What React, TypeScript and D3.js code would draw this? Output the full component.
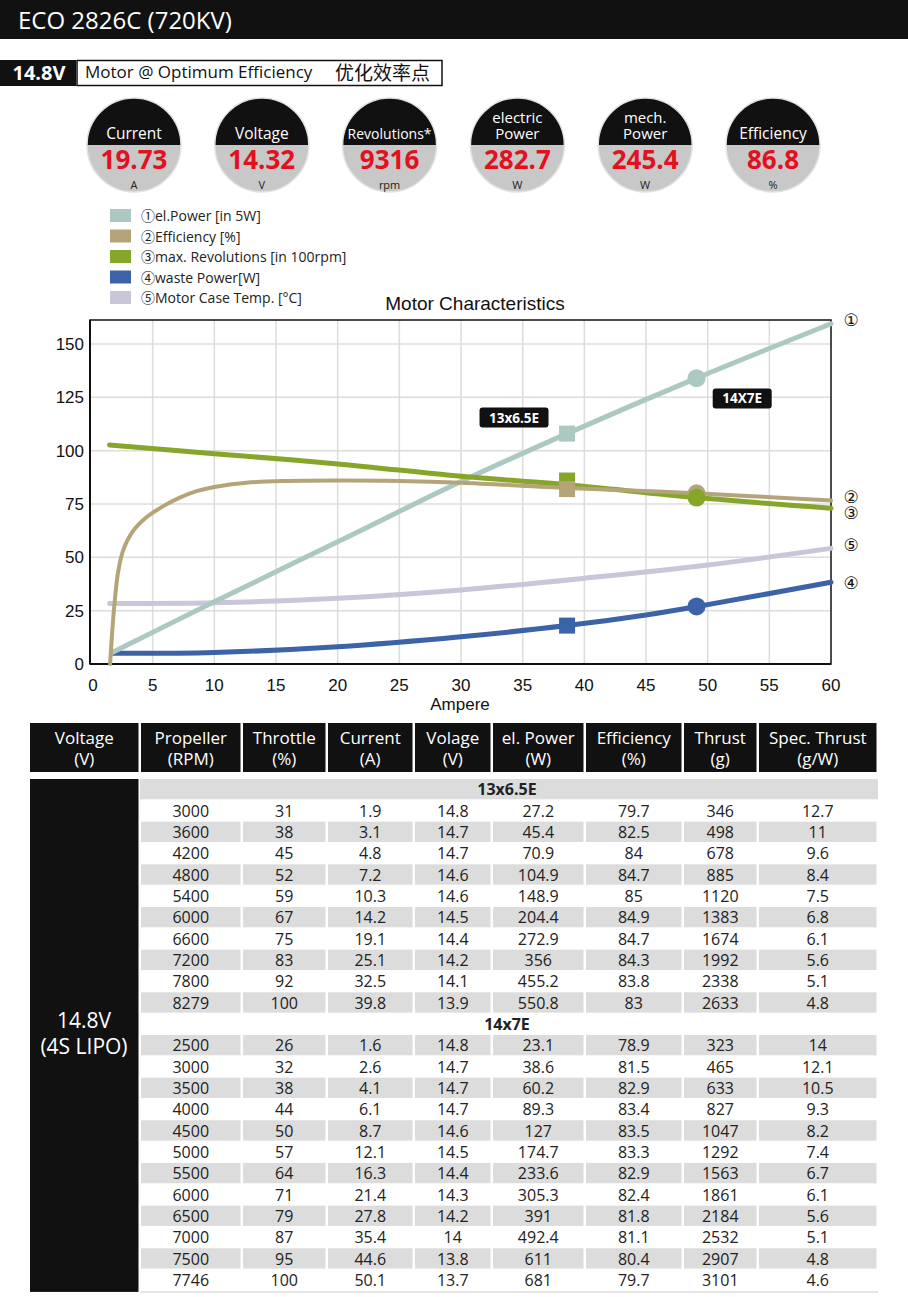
import React from "react";
import * as d3 from "d3";

// ---------- DATA ----------
const circleTitles = [["Current"], ["Voltage"], ["Revolutions*"], ["electric", "Power"], ["mech.", "Power"], ["Efficiency"]];
const circleValues = ["19.73", "14.32", "9316", "282.7", "245.4", "86.8"];
const circleUnits = ["A", "V", "rpm", "W", "W", "%"];

const legendLabels = ["①el.Power [in 5W]", "②Efficiency [%]", "③max. Revolutions [in 100rpm]", "④waste Power[W]", "⑤Motor Case Temp. [°C]"];
const seriesColors = ["#abc9c1", "#b5a479", "#86a62a", "#3c63a8", "#c9c6d9"];

// [Ampere, value]
const elPower: [number, number][] = [[1.8, 5.6], [10, 29.2], [20, 57.3], [30, 85.5], [38.6, 108], [49.1, 134], [60, 159.5]];
const efficiency: [number, number][] = [[1.55, 0], [1.73, 16], [1.95, 31], [2.21, 43.5], [2.62, 53.5], [3.43, 62.5], [4.5, 68.8], [5.86, 74], [7.2, 78], [8.56, 81], [10, 83], [12.6, 85], [16, 85.8], [20, 86], [25, 85.8], [30, 85], [38.6, 82.5], [49.1, 80], [60, 76.6]];
const maxRev: [number, number][] = [[1.5, 102.7], [10, 98.6], [20, 93.8], [30, 88], [38.6, 84], [49.1, 78], [60, 73]];
const wastePower: [number, number][] = [[1.8, 5], [10, 5.4], [20, 8.1], [30, 12.8], [38.6, 18], [45, 23], [49.1, 26.9], [60, 38.3]];
const caseTemp: [number, number][] = [[1.5, 28.4], [10, 28.7], [20, 30.8], [30, 34.7], [40, 40.2], [50, 46.4], [60, 54.2]];
const seriesData = [elPower, efficiency, maxRev, wastePower, caseTemp];

const squareMarkers: [number, number, number][] = [[0, 38.6, 108], [2, 38.6, 86], [1, 38.6, 82], [3, 38.6, 18]];
const circleMarkers: [number, number, number][] = [[0, 49.1, 134], [1, 49.1, 80], [2, 49.1, 78], [3, 49.1, 27]];
const propLabels = [{ text: "13x6.5E", x: 34.3, y: 115.5, w: 69 }, { text: "14X7E", x: 52.8, y: 124.5, w: 59 }];

const endLabels = [{ t: "①", y: 161.2 }, { t: "②", y: 78.3 }, { t: "③", y: 70.8 }, { t: "⑤", y: 55.8 }, { t: "④", y: 38 }];

const xTicks = [0, 5, 10, 15, 20, 25, 30, 35, 40, 45, 50, 55, 60];
const yTicks = [0, 25, 50, 75, 100, 125, 150];

const headerTop = ["Voltage", "Propeller", "Throttle", "Current", "Volage", "el. Power", "Efficiency", "Thrust", "Spec. Thrust"];
const headerBottom = ["(V)", "(RPM)", "(%)", "(A)", "(V)", "(W)", "(%)", "(g)", "(g/W)"];

const prop1Name = "13x6.5E";
const prop1Rows = [
  ["3000", "31", "1.9", "14.8", "27.2", "79.7", "346", "12.7"],
  ["3600", "38", "3.1", "14.7", "45.4", "82.5", "498", "11"],
  ["4200", "45", "4.8", "14.7", "70.9", "84", "678", "9.6"],
  ["4800", "52", "7.2", "14.6", "104.9", "84.7", "885", "8.4"],
  ["5400", "59", "10.3", "14.6", "148.9", "85", "1120", "7.5"],
  ["6000", "67", "14.2", "14.5", "204.4", "84.9", "1383", "6.8"],
  ["6600", "75", "19.1", "14.4", "272.9", "84.7", "1674", "6.1"],
  ["7200", "83", "25.1", "14.2", "356", "84.3", "1992", "5.6"],
  ["7800", "92", "32.5", "14.1", "455.2", "83.8", "2338", "5.1"],
  ["8279", "100", "39.8", "13.9", "550.8", "83", "2633", "4.8"],
];
const prop2Name = "14x7E";
const prop2Rows = [
  ["2500", "26", "1.6", "14.8", "23.1", "78.9", "323", "14"],
  ["3000", "32", "2.6", "14.7", "38.6", "81.5", "465", "12.1"],
  ["3500", "38", "4.1", "14.7", "60.2", "82.9", "633", "10.5"],
  ["4000", "44", "6.1", "14.7", "89.3", "83.4", "827", "9.3"],
  ["4500", "50", "8.7", "14.6", "127", "83.5", "1047", "8.2"],
  ["5000", "57", "12.1", "14.5", "174.7", "83.3", "1292", "7.4"],
  ["5500", "64", "16.3", "14.4", "233.6", "82.9", "1563", "6.7"],
  ["6000", "71", "21.4", "14.3", "305.3", "82.4", "1861", "6.1"],
  ["6500", "79", "27.8", "14.2", "391", "81.8", "2184", "5.6"],
  ["7000", "87", "35.4", "14", "492.4", "81.1", "2532", "5.1"],
  ["7500", "95", "44.6", "13.8", "611", "80.4", "2907", "4.8"],
  ["7746", "100", "50.1", "13.7", "681", "79.7", "3101", "4.6"],
];

// ---------- LAYOUT ----------
const W = 908, H = 1297;
const FONT = "'Open Sans', 'Noto Sans', 'Noto Sans CJK SC', sans-serif";
const AX = "'Liberation Sans', Arial, sans-serif";

const x = d3.scaleLinear().domain([0, 60]).range([91, 831]);
const y = d3.scaleLinear().domain([0, 161.25]).range([664, 320]);
const line = d3.line<[number, number]>().x(d => x(d[0])).y(d => y(d[1])).curve(d3.curveCatmullRom.alpha(0.5));

const colEdges = [30, 140, 242, 327, 414, 492, 585, 683, 758, 878];
const tableTop = 779;
const rowH = 21.33;

export default function App() {
  const bodyRows: { kind: "sec" | "data"; name?: string; cells?: string[] }[] = [
    { kind: "sec", name: prop1Name },
    ...prop1Rows.map(c => ({ kind: "data" as const, cells: c })),
    { kind: "sec", name: prop2Name },
    ...prop2Rows.map(c => ({ kind: "data" as const, cells: c })),
  ];
  const drawOrder = [4, 3, 0, 2, 1];
  return (
    <svg width={W} height={H} style={{ position: "absolute", left: 0, top: 0, background: "#fff" }} fontFamily={FONT}>
      <defs>
        {circleValues.map((_, i) => (
          <clipPath id={`cc${i}`} key={i}>
            <circle cx={134 + i * 127.8} cy={145} r={47} />
          </clipPath>
        ))}
      </defs>
      <rect x={0} y={0} width={W} height={H} fill="#fff" />
      {/* Title bar */}
      <rect x={0} y={0} width={W} height={39} fill="#111" />
      <text x={18} y={29} fill="#fff" fontSize={24}>ECO 2826C (720KV)</text>

      {/* Sub bar */}
      <rect x={0} y={60} width={76} height={26} fill="#111" />
      <text x={39} y={80} fill="#fff" fontSize={20} fontWeight="bold" textAnchor="middle">14.8V</text>
      <rect x={77} y={60.5} width={365} height={25} fill="#fff" stroke="#111" strokeWidth={1.5} />
      <text x={85} y={78} fill="#111" fontSize={17}>Motor @ Optimum Efficiency</text>
      <text x={335} y={80} fill="#111" fontSize={19} fontFamily="'Noto Sans CJK SC', sans-serif">优化效率点</text>

      {/* Circles */}
      {circleValues.map((v, i) => {
        const cx = 134 + i * 127.8;
        const t = circleTitles[i];
        const fs = t[0].length > 10 ? 14 : 15.5;
        return (
          <g key={i}>
            <g clipPath={`url(#cc${i})`}>
              <rect x={cx - 50} y={95} width={100} height={50} fill="#111" />
              <rect x={cx - 50} y={145} width={100} height={50} fill="#c8c8c8" />
            </g>
            <circle cx={cx} cy={145} r={47} fill="none" stroke="#e2e2e2" strokeWidth={1.5} />
            {t.length === 1 ? (
              <text x={cx} y={139} fill="#fff" fontSize={fs} textAnchor="middle">{t[0]}</text>
            ) : (
              <>
                <text x={cx} y={123} fill="#fff" fontSize={15} textAnchor="middle">{t[0]}</text>
                <text x={cx} y={139} fill="#fff" fontSize={15} textAnchor="middle">{t[1]}</text>
              </>
            )}
            <text x={cx} y={169} fill="#e3101e" fontSize={26} fontWeight="bold" textAnchor="middle">{v}</text>
            <text x={cx} y={188.5} fill="#222" fontSize={11} textAnchor="middle">{circleUnits[i]}</text>
          </g>
        );
      })}

      {/* Legend */}
      {legendLabels.map((l, i) => (
        <g key={i}>
          <rect x={110} y={209 + i * 20.5} width={21} height={13} fill={seriesColors[i]} />
          <text x={141} y={221 + i * 20.5} fontSize={14} fill="#222">{l}</text>
        </g>
      ))}

      {/* Chart */}
      <text x={475} y={310} fontSize={19} textAnchor="middle" fontFamily={AX} fill="#111">Motor Characteristics</text>
      {xTicks.slice(1, -1).map(t => (
        <line key={"gx" + t} x1={x(t)} x2={x(t)} y1={y(161.25)} y2={y(0)} stroke="#dcdcdc" strokeWidth={1.5} />
      ))}
      {yTicks.slice(1).map(t => (
        <line key={"gy" + t} x1={x(0)} x2={x(60)} y1={y(t)} y2={y(t)} stroke="#dcdcdc" strokeWidth={1.5} />
      ))}
      <rect x={x(0) - 1} y={y(161.25)} width={x(60) - x(0) + 1} height={y(0) - y(161.25)} fill="none" stroke="#111" strokeWidth={1.5} />
      <line x1={x(0) - 1} x2={x(0) - 1} y1={y(161.25)} y2={y(0)} stroke="#111" strokeWidth={2} />
      <line x1={x(0) - 1} x2={x(60)} y1={y(0)} y2={y(0)} stroke="#111" strokeWidth={2} />
      {xTicks.map(t => (
        <text key={"xt" + t} x={x(t) + (t === 0 ? 2 : 0)} y={691} fontSize={17} textAnchor="middle" fontFamily={AX} fill="#111">{t}</text>
      ))}
      {yTicks.map(t => (
        <text key={"yt" + t} x={84} y={y(t) + 6} fontSize={17} textAnchor="end" fontFamily={AX} fill="#111">{t}</text>
      ))}
      <text x={460} y={710} fontSize={17} textAnchor="middle" fontFamily={AX} fill="#111">Ampere</text>

      {drawOrder.map(i => (
        <path key={"s" + i} d={line(seriesData[i]) || ""} fill="none" stroke={seriesColors[i]} strokeWidth={i === 1 ? 4 : 5} strokeLinecap="round" />
      ))}
      {squareMarkers.map(([s, a, v], k) => (
        <rect key={"sq" + k} x={x(a) - 8} y={y(v) - 8} width={16} height={16} fill={seriesColors[s]} />
      ))}
      {circleMarkers.map(([s, a, v], k) => (
        <circle key={"ci" + k} cx={x(a)} cy={y(v)} r={9} fill={seriesColors[s]} />
      ))}
      {propLabels.map((p, k) => (
        <g key={"pl" + k}>
          <rect x={x(p.x) - p.w / 2} y={y(p.y) - 10} width={p.w} height={20} rx={3} fill="#111" />
          <text x={x(p.x)} y={y(p.y) + 5} fill="#fff" fontSize={13.5} fontWeight="bold" textAnchor="middle">{p.text}</text>
        </g>
      ))}
      {endLabels.map((e, k) => (
        <text key={"el" + k} x={851} y={y(e.y) + 6} fontSize={17} textAnchor="middle" fill="#111" fontFamily="'DejaVu Sans', 'Noto Sans CJK SC', sans-serif">{e.t}</text>
      ))}

      {/* Table header */}
      {headerTop.map((h, i) => {
        const x0 = colEdges[i] + (i === 0 ? 0 : 1), x1 = colEdges[i + 1] - 1.5;
        const cx = (x0 + x1) / 2;
        return (
          <g key={"h" + i}>
            <rect x={x0} y={723} width={x1 - x0} height={49} fill="#111" />
            <text x={cx} y={744} fill="#fff" fontSize={17} textAnchor="middle">{h}</text>
            <text x={cx} y={765} fill="#fff" fontSize={17} textAnchor="middle">{headerBottom[i]}</text>
          </g>
        );
      })}

      {/* Table body */}
      <rect x={30} y={tableTop} width={108.5} height={bodyRows.length * rowH + 1} fill="#111" />
      <text x={84} y={1028} fill="#fff" fontSize={21} textAnchor="middle">14.8V</text>
      <text x={84} y={1054} fill="#fff" fontSize={21} textAnchor="middle">(4S LIPO)</text>
      {bodyRows.map((r, ri) => {
        const ty = tableTop + ri * rowH;
        const gray = ri % 2 === 0;
        if (r.kind === "sec") {
          return (
            <g key={"r" + ri}>
              {gray && <rect x={140} y={ty} width={738} height={rowH - 1} fill="#dcdcdc" />}
              <text x={507} y={ty + 16} fontSize={16} fontWeight="bold" textAnchor="middle" fill="#222">{r.name}</text>
            </g>
          );
        }
        return (
          <g key={"r" + ri}>
            {r.cells!.map((c, ci) => {
              const x0 = colEdges[ci + 1] + 1, x1 = colEdges[ci + 2] - 1.5;
              return (
                <g key={ci}>
                  {gray && <rect x={x0} y={ty} width={x1 - x0} height={rowH - 1} fill="#dcdcdc" />}
                  <text x={(x0 + x1) / 2} y={ty + 16.5} fontSize={16} textAnchor="middle" fill="#222">{c}</text>
                </g>
              );
            })}
          </g>
        );
      })}
      <line x1={140} x2={878} y1={tableTop + bodyRows.length * rowH + 1} y2={tableTop + bodyRows.length * rowH + 1} stroke="#e6e6e6" strokeWidth={2} />
    </svg>
  );
}
